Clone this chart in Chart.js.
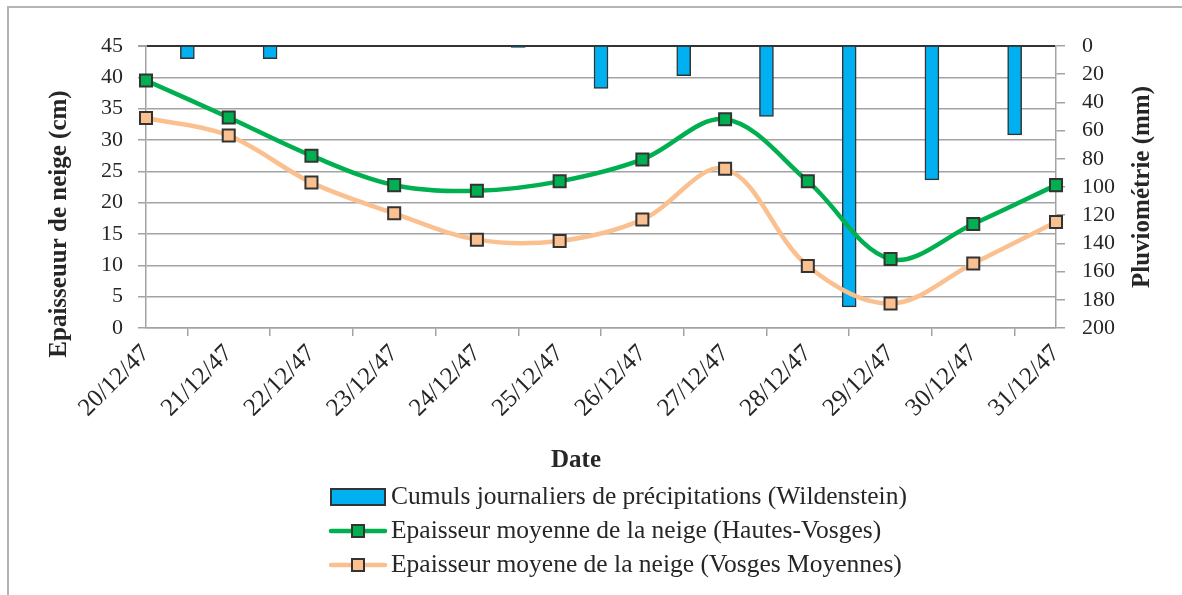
<!DOCTYPE html>
<html lang="fr">
<head>
<meta charset="utf-8">
<title>Epaisseur de neige et pluviométrie, décembre 1947</title>
<script src="https://cdn.jsdelivr.net/npm/chart.js@4.4.0/dist/chart.umd.min.js"></script>
<style>
  html, body { margin: 0; padding: 0; background: #fff; }
  canvas { display: block; }
</style>
</head>
<body>
<canvas id="neigeChart" width="1182" height="595"></canvas>
<script>
// Jours du relevé (étiquettes de l'axe des dates)
const dates = ['20/12/47', '21/12/47', '22/12/47', '23/12/47', '24/12/47', '25/12/47',
  '26/12/47', '27/12/47', '28/12/47', '29/12/47', '30/12/47', '31/12/47'];

// Epaisseur moyenne de la neige, en cm
const hautesVosges = [39.5, 33.6, 27.5, 22.8, 21.9, 23.4, 26.9, 33.3, 23.4, 11.0, 16.6, 22.8];
const vosgesMoyennes = [33.5, 30.7, 23.2, 18.3, 14.1, 13.9, 17.3, 25.4, 9.9, 3.9, 10.3, 16.9];

// Cumuls journaliers à Wildenstein, en mm (entre deux relevés)
const pluie = [9, 9, 0, 0, 1, 30, 21, 50, 185, 95, 63];

const serif = '"Liberation Serif", "Times New Roman", serif';
const textColor = '#262626';
const gridGray = '#a3a3a3';
const tickFont = { family: serif, size: 22 };

// cadre, titres des axes et légende
const decor = {
  id: 'decor',
  beforeDraw(chart) {
    const c = chart.ctx;
    c.save();
    c.strokeStyle = '#b4b4b4';
    c.lineWidth = 2;
    c.beginPath();
    c.moveTo(8, 595);
    c.lineTo(8, 7);
    c.lineTo(1182, 7);
    c.stroke();
    c.restore();
  },
  afterDraw(chart) {
    const c = chart.ctx;
    const area = chart.chartArea;
    c.save();
    c.fillStyle = textColor;
    c.textAlign = 'center';
    c.textBaseline = 'middle';
    c.font = 'bold 25px ' + serif;

    c.save();
    c.translate(60, 224);
    c.rotate(-Math.PI / 2);
    c.fillText('Epaisseuur de neige (cm)', 0, 0);
    c.restore();

    c.save();
    c.translate(1143, (area.top + area.bottom) / 2);
    c.rotate(-Math.PI / 2);
    c.fillText('Pluviométrie (mm)', 0, 0);
    c.restore();

    c.fillText('Date', 576, 461);

    // légende, une entrée par ligne
    c.font = '25.5px ' + serif;
    c.textAlign = 'left';
    const x0 = 331, symW = 54;
    chart.data.datasets.forEach((ds, i) => {
      const y = 497 + i * 34;
      if (ds.type === 'bar') {
        c.fillStyle = ds.backgroundColor;
        c.fillRect(x0, y - 8, symW, 16);
        c.strokeStyle = ds.borderColor;
        c.lineWidth = 2;
        c.strokeRect(x0, y - 8, symW, 16);
      } else {
        c.strokeStyle = ds.borderColor;
        c.lineWidth = ds.borderWidth;
        c.lineCap = 'round';
        c.beginPath();
        c.moveTo(x0, y);
        c.lineTo(x0 + symW, y);
        c.stroke();
        const s = 12;
        c.fillStyle = ds.pointBackgroundColor;
        c.fillRect(x0 + symW / 2 - s / 2, y - s / 2, s, s);
        c.strokeStyle = ds.pointBorderColor;
        c.lineWidth = 2;
        c.strokeRect(x0 + symW / 2 - s / 2, y - s / 2, s, s);
      }
      c.fillStyle = textColor;
      c.fillText(ds.label, x0 + symW + 6, y);
    });
    c.restore();
  }
};

const ctx = document.getElementById('neigeChart').getContext('2d');

new Chart(ctx, {
  type: 'bar',
  data: {
    datasets: [
      {
        type: 'bar',
        label: 'Cumuls journaliers de précipitations (Wildenstein)',
        data: pluie.map((v, i) => ({ x: i + 0.5, y: v })),
        yAxisID: 'y2',
        backgroundColor: '#00b0f0',
        borderColor: '#333333',
        borderWidth: 1.5,
        barThickness: 14,
        order: 2
      },
      {
        type: 'line',
        label: 'Epaisseur moyenne de la neige (Hautes-Vosges)',
        data: hautesVosges.map((v, i) => ({ x: i, y: v })),
        yAxisID: 'y',
        borderColor: '#00b050',
        borderWidth: 4.5,
        tension: 0.35,
        clip: false,
        pointStyle: 'rect',
        pointRadius: 8.5,
        pointBackgroundColor: '#00b050',
        pointBorderColor: '#333333',
        pointBorderWidth: 2,
        order: 1
      },
      {
        type: 'line',
        label: 'Epaisseur moyene de la neige (Vosges Moyennes)',
        data: vosgesMoyennes.map((v, i) => ({ x: i, y: v })),
        yAxisID: 'y',
        borderColor: '#fac090',
        borderWidth: 4.5,
        tension: 0.35,
        clip: false,
        pointStyle: 'rect',
        pointRadius: 8.5,
        pointBackgroundColor: '#fac090',
        pointBorderColor: '#333333',
        pointBorderWidth: 2,
        order: 0
      }
    ]
  },
  options: {
    responsive: false,
    animation: false,
    layout: { padding: { top: 46, left: 0, right: 0, bottom: 0 } },
    plugins: {
      legend: { display: false },
      tooltip: { enabled: false }
    },
    scales: {
      x: {
        type: 'linear',
        min: 0,
        max: 11,
        offset: false,
        grid: { drawOnChartArea: false, color: gridGray, lineWidth: 1.5, tickLength: 8 },
        border: { color: gridGray, width: 1.5 },
        ticks: {
          stepSize: 1,
          autoSkip: false,
          maxRotation: 45,
          minRotation: 45,
          font: { family: serif, size: 25 },
          color: textColor,
          callback: v => dates[v]
        },
        afterFit: s => { s.height = 267; }
      },
      y: {
        position: 'left',
        min: 0,
        max: 45,
        grid: {
          color: c => (c.tick && c.tick.value === 45 ? '#333333' : gridGray),
          lineWidth: c => (c.tick && c.tick.value === 45 ? 2 : 1.5),
          tickColor: gridGray,
          tickLength: 8
        },
        border: { color: gridGray, width: 1.5 },
        ticks: { stepSize: 5, autoSkip: false, padding: 15, font: tickFont, color: textColor },
        afterFit: s => { s.width = 146; }
      },
      y2: {
        position: 'right',
        reverse: true,
        min: 0,
        max: 200,
        grid: { drawOnChartArea: false, color: gridGray, lineWidth: 1.5, tickLength: 9 },
        border: { color: gridGray, width: 1.5 },
        ticks: { stepSize: 20, autoSkip: false, padding: 17, font: tickFont, color: textColor },
        afterFit: s => { s.width = 126; }
      }
    }
  },
  plugins: [decor]
});
</script>
</body>
</html>
